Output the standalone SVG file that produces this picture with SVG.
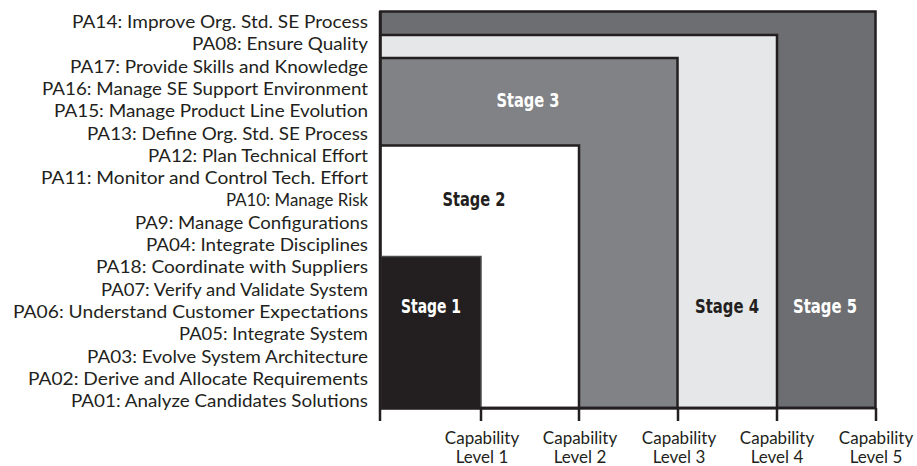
<svg xmlns="http://www.w3.org/2000/svg" width="917" height="466" viewBox="0 0 917 466">
  <style>
    .pa { font-family: Lato, "Open Sans", "Liberation Sans", sans-serif; font-size: 17.5px; fill: #231f20; text-anchor: end; }
    .lvl { font-family: Lato, "Open Sans", "Liberation Sans", sans-serif; font-size: 17px; fill: #231f20; text-anchor: middle; }
    .stage { font-family: "DejaVu Sans", "Liberation Sans", sans-serif; font-weight: bold; font-size: 20px; text-anchor: middle; font-stretch: condensed; }
    .box { stroke: #231f20; stroke-width: 2.5; }
    .axis { stroke: #231f20; stroke-width: 2.5; fill: none; }
  </style>

  <!-- nested stage blocks, outermost first -->
  <g id="stage5">
    <rect class="box" x="380.5" y="11.5" width="495" height="396.5" fill="#6d6e71"/>
    <text class="stage" x="825" y="313" fill="#ffffff" textLength="64" lengthAdjust="spacingAndGlyphs">Stage 5</text>
  </g>
  <g id="stage4">
    <rect class="box" x="380.5" y="35" width="396.5" height="373" fill="#e6e7e8"/>
    <text class="stage" x="727" y="313" fill="#231f20" textLength="64" lengthAdjust="spacingAndGlyphs">Stage 4</text>
  </g>
  <g id="stage3">
    <rect class="box" x="380.5" y="58" width="297" height="350" fill="#808285"/>
    <text class="stage" x="528" y="107" fill="#ffffff" textLength="63" lengthAdjust="spacingAndGlyphs">Stage 3</text>
  </g>
  <g id="stage2">
    <rect class="box" x="380.5" y="145.5" width="198.5" height="262.5" fill="#ffffff"/>
    <text class="stage" x="474" y="206" fill="#231f20" textLength="63" lengthAdjust="spacingAndGlyphs">Stage 2</text>
  </g>
  <g id="stage1">
    <rect x="380.5" y="256.5" width="100.5" height="151.5" fill="#231f20" stroke="#4d4d4f" stroke-width="1.5"/>
    <text class="stage" x="431" y="313" fill="#ffffff" textLength="60" lengthAdjust="spacingAndGlyphs">Stage 1</text>
  </g>

  <!-- axis with capability level ticks -->
  <g id="connectors">
    <line class="axis" x1="380" y1="11" x2="380" y2="421"/>
    <line class="axis" x1="380" y1="408" x2="876" y2="408"/>
    <line class="axis" x1="481" y1="408" x2="481" y2="421"/>
    <line class="axis" x1="579" y1="408" x2="579" y2="421"/>
    <line class="axis" x1="678" y1="408" x2="678" y2="421"/>
    <line class="axis" x1="777" y1="408" x2="777" y2="421"/>
    <line class="axis" x1="876" y1="408" x2="876" y2="421"/>
  </g>

  <g id="levels">
    <text class="lvl" x="482" y="444">Capability</text>
    <text class="lvl" x="482" y="463">Level 1</text>
    <text class="lvl" x="580" y="444">Capability</text>
    <text class="lvl" x="580" y="463">Level 2</text>
    <text class="lvl" x="679" y="444">Capability</text>
    <text class="lvl" x="679" y="463">Level 3</text>
    <text class="lvl" x="777" y="444">Capability</text>
    <text class="lvl" x="777" y="463">Level 4</text>
    <text class="lvl" x="876" y="444">Capability</text>
    <text class="lvl" x="876" y="463">Level 5</text>
  </g>

  <!-- process area labels -->
  <g id="process-areas">
    <text class="pa" x="368" y="28" textLength="296" lengthAdjust="spacingAndGlyphs">PA14: Improve Org. Std. SE Process</text>
    <text class="pa" x="368" y="50.3" textLength="176" lengthAdjust="spacingAndGlyphs">PA08: Ensure Quality</text>
    <text class="pa" x="368" y="72.6" textLength="298" lengthAdjust="spacingAndGlyphs">PA17: Provide Skills and Knowledge</text>
    <text class="pa" x="368" y="94.9" textLength="326" lengthAdjust="spacingAndGlyphs">PA16: Manage SE Support Environment</text>
    <text class="pa" x="368" y="117.2" textLength="314" lengthAdjust="spacingAndGlyphs">PA15: Manage Product Line Evolution</text>
    <text class="pa" x="368" y="139.5" textLength="281" lengthAdjust="spacingAndGlyphs">PA13: Define Org. Std. SE Process</text>
    <text class="pa" x="368" y="161.8" textLength="220" lengthAdjust="spacingAndGlyphs">PA12: Plan Technical Effort</text>
    <text class="pa" x="368" y="184.1" textLength="327" lengthAdjust="spacingAndGlyphs">PA11: Monitor and Control Tech. Effort</text>
    <text class="pa" x="368" y="206.4" textLength="142" lengthAdjust="spacingAndGlyphs">PA10: Manage Risk</text>
    <text class="pa" x="368" y="228.7" textLength="233" lengthAdjust="spacingAndGlyphs">PA9: Manage Configurations</text>
    <text class="pa" x="368" y="251" textLength="222" lengthAdjust="spacingAndGlyphs">PA04: Integrate Disciplines</text>
    <text class="pa" x="368" y="273.3" textLength="272" lengthAdjust="spacingAndGlyphs">PA18: Coordinate with Suppliers</text>
    <text class="pa" x="368" y="295.6" textLength="267" lengthAdjust="spacingAndGlyphs">PA07: Verify and Validate System</text>
    <text class="pa" x="368" y="317.9" textLength="355" lengthAdjust="spacingAndGlyphs">PA06: Understand Customer Expectations</text>
    <text class="pa" x="368" y="340.2" textLength="189" lengthAdjust="spacingAndGlyphs">PA05: Integrate System</text>
    <text class="pa" x="368" y="362.5" textLength="281" lengthAdjust="spacingAndGlyphs">PA03: Evolve System Architecture</text>
    <text class="pa" x="368" y="384.8" textLength="340" lengthAdjust="spacingAndGlyphs">PA02: Derive and Allocate Requirements</text>
    <text class="pa" x="368" y="407.1" textLength="297" lengthAdjust="spacingAndGlyphs">PA01: Analyze Candidates Solutions</text>
  </g>
</svg>
